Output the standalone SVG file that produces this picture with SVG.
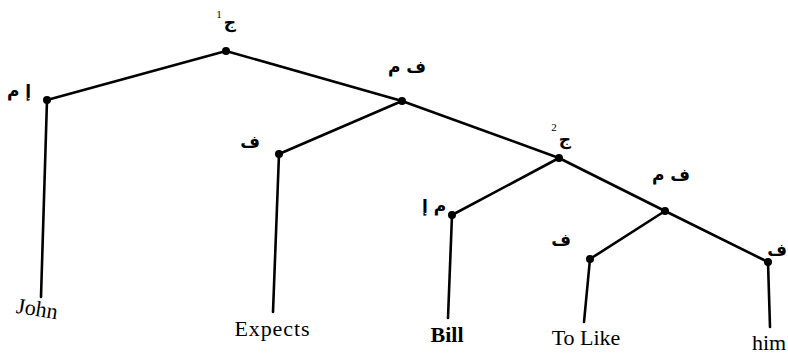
<svg xmlns="http://www.w3.org/2000/svg" width="788" height="356" viewBox="0 0 788 356">
<style>
.e{stroke:#000;stroke-width:2.6;stroke-linecap:round;fill:none}
.d{fill:#000}
.ar{font-family:"DejaVu Sans",sans-serif;font-weight:bold;font-size:17px;fill:#000;text-anchor:middle}
.sup{font-family:"Liberation Serif",serif;font-size:11px;fill:#000;text-anchor:middle}
.w{font-family:"Liberation Serif",serif;font-size:22px;fill:#000;text-anchor:middle}
</style>
<rect width="788" height="356" fill="#fff"/>
<g id="connectors">
<line class="e" x1="226" y1="51" x2="47" y2="100"/>
<line class="e" x1="226" y1="51" x2="402" y2="101"/>
<line class="e" x1="402" y1="101" x2="279" y2="154"/>
<line class="e" x1="402" y1="101" x2="559" y2="158"/>
<line class="e" x1="559" y1="158" x2="452" y2="215"/>
<line class="e" x1="559" y1="158" x2="665" y2="211"/>
<line class="e" x1="665" y1="211" x2="590" y2="259"/>
<line class="e" x1="665" y1="211" x2="768" y2="262"/>
<line class="e" x1="47" y1="100" x2="41" y2="297"/>
<line class="e" x1="279" y1="154" x2="273" y2="312"/>
<line class="e" x1="452" y1="215" x2="448" y2="318"/>
<line class="e" x1="590" y1="259" x2="584" y2="322"/>
<line class="e" x1="768" y1="262" x2="770" y2="327"/>
</g>
<g id="n-root"><circle class="d" cx="226" cy="51" r="4"/><text class="ar" x="230" y="28" font-size="20">ج</text><text class="sup" x="219" y="18">1</text></g>
<g id="n-np1"><circle class="d" cx="47" cy="100" r="4"/><text class="ar" x="19" y="97">إ م</text></g>
<g id="n-vp1"><circle class="d" cx="402" cy="101" r="4"/><text class="ar" x="407" y="73">ف م</text></g>
<g id="n-v1"><circle class="d" cx="279" cy="154" r="4"/><text class="ar" x="250" y="148">ف</text></g>
<g id="n-s2"><circle class="d" cx="559" cy="158" r="4"/><text class="ar" x="565" y="145" font-size="20">ج</text><text class="sup" x="554" y="131">2</text></g>
<g id="n-np2"><circle class="d" cx="452" cy="215" r="4"/><text class="ar" x="434" y="212">م إ</text></g>
<g id="n-vp2"><circle class="d" cx="665" cy="211" r="4"/><text class="ar" x="671" y="181">ف م</text></g>
<g id="n-v2"><circle class="d" cx="590" cy="259" r="4"/><text class="ar" x="561" y="246">ف</text></g>
<g id="n-np3"><circle class="d" cx="768" cy="262" r="4"/><text class="ar" x="777" y="256" text-anchor="end">ف</text></g>
<g id="leaves">
<text class="w" x="37" y="316" transform="rotate(9 37 310)">John</text>
<text class="w" x="272" y="336" textLength="75" lengthAdjust="spacing">Expects</text>
<text class="w" x="447" y="342" font-weight="bold" font-size="21">Bill</text>
<text class="w" x="586" y="345">To Like</text>
<text class="w" x="769" y="350">him</text>
</g>
</svg>
